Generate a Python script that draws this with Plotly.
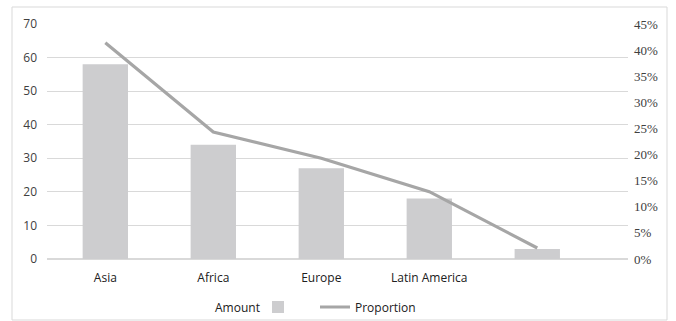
import plotly.graph_objects as go

categories = ["Asia", "Africa", "Europe", "Latin America", " "]
amount = [58, 34, 27, 18, 3]
proportion = [0.414, 0.243, 0.193, 0.129, 0.021]

FONT = "Open Sans"
TXT = "#404040"

fig = go.Figure()
fig.add_trace(go.Bar(
    x=categories, y=amount, name="\u2003", width=0.42,
    marker=dict(color="#cdcdcf", line=dict(width=0)),
    yaxis="y", showlegend=True,
))
fig.add_trace(go.Scatter(
    x=categories, y=proportion, name="Proportion", mode="lines",
    line=dict(color="#a6a6a6", width=3.2),
    yaxis="y2",
))

fig.update_layout(
    width=676, height=321,
    margin=dict(l=47, r=48, t=24, b=62, autoexpand=False),
    paper_bgcolor="white", plot_bgcolor="white",
    font=dict(family=FONT, size=12, color=TXT),
    xaxis=dict(
        type="category", range=[-0.54, 4.84],
        showgrid=False, showline=False, zeroline=False,
        ticks="", ticklabelstandoff=10,
        tickfont=dict(family=FONT, size=12, color="#202020"),
    ),
    yaxis=dict(
        range=[0, 70], dtick=10, showgrid=True, gridcolor="#d9d9d9", gridwidth=1,
        zeroline=True, zerolinecolor="#d9d9d9", zerolinewidth=1.5,
        showline=False, ticks="", ticklabelstandoff=9,
        tickfont=dict(family=FONT, size=12, color=TXT),
    ),
    yaxis2=dict(
        overlaying="y", side="right", range=[0, 0.45], dtick=0.05,
        tickformat=".0%", showgrid=False, zeroline=False, showline=False,
        ticks="", ticklabelstandoff=5,
        tickfont=dict(family="Liberation Serif", size=13, color=TXT),
    ),
    legend=dict(
        orientation="h", xref="container", yref="container",
        x=258 / 676, xanchor="left", y=(321 - 307) / 321, yanchor="middle",
        font=dict(family=FONT, size=12, color="#202020"),
        itemwidth=30, tracegroupgap=0, bgcolor="rgba(0,0,0,0)",
    ),
    bargap=0.58,
    showlegend=True,
)

fig.add_annotation(text="Amount", xref="paper", yref="paper",
                   x=(262 - 47) / 581, y=-(307 - 259) / 235,
                   xanchor="right", yanchor="middle", showarrow=False,
                   font=dict(family=FONT, size=12, color="#202020"))

fig.add_shape(type="rect", xref="paper", yref="paper",
              x0=-35/581, x1=620/581, y0=-61/235, y1=(235+17)/235,
              line=dict(color="#d9d9d9", width=1), fillcolor="rgba(0,0,0,0)", layer="below")

fig.write_html("out.html")
